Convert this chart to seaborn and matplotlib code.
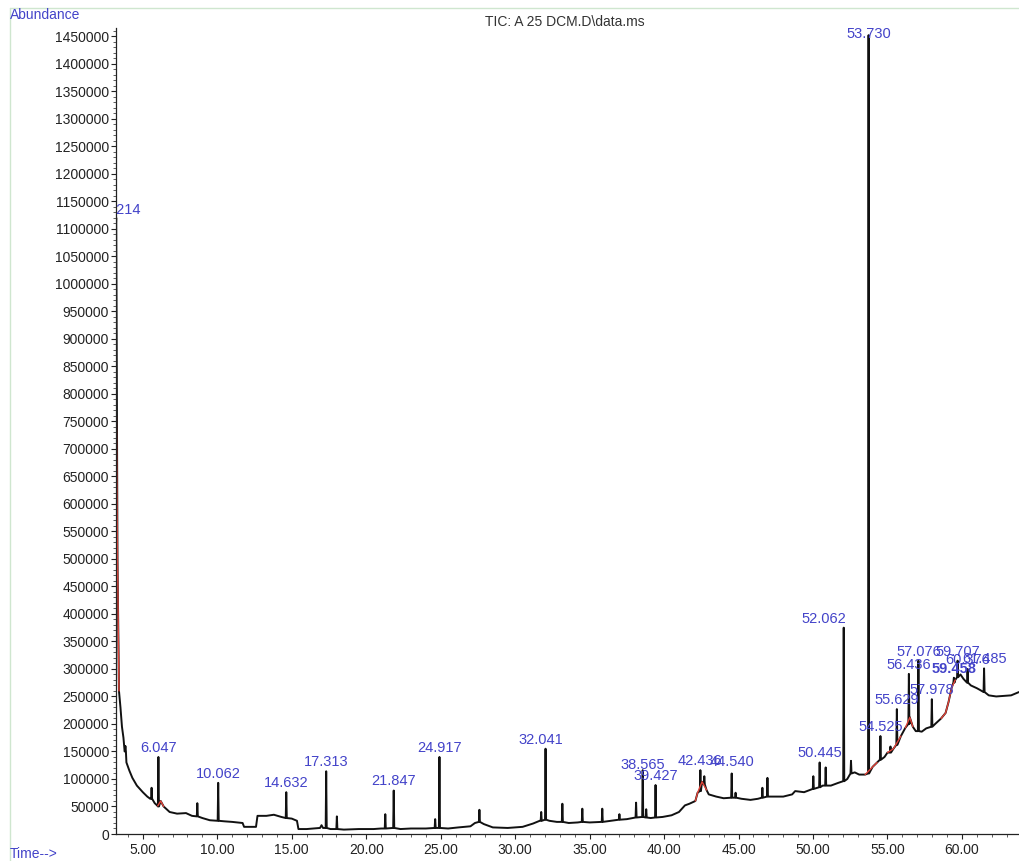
import numpy as np
import pandas as pd
import matplotlib
matplotlib.use("Agg")
import matplotlib.pyplot as plt
from matplotlib.lines import Line2D
from matplotlib.ticker import MultipleLocator, FormatStrFormatter, FuncFormatter
import seaborn as sns

# ---- chromatogram data (retention time in min, abundance in counts) ----
# baseline knots of the TIC trace
base_t = [3.30, 3.40, 3.50, 3.60, 3.70, 3.78, 3.90, 4.10, 4.30, 4.60, 5.00, 5.30, 5.50,
          5.80, 6.00, 6.20, 6.40, 6.80, 7.30, 7.90, 8.30, 9.00, 9.50, 10.50, 11.00,
          11.70, 11.80, 12.60, 12.70, 13.30, 13.80, 14.30, 15.00, 15.35, 15.45, 16.00,
          16.90, 17.00, 17.10, 17.60, 18.50, 19.50, 20.50, 21.00, 22.30, 23.00, 24.00,
          25.50, 26.20, 27.00, 27.30, 27.90, 28.50, 29.50, 30.50, 31.20, 31.65, 32.30,
          32.80, 33.60, 34.20, 35.00, 36.40, 37.50, 39.10, 39.90, 40.50, 41.00, 41.40,
          41.70, 42.10, 42.25, 42.55, 42.85, 43.00, 43.50, 44.00, 45.20, 45.80, 46.30,
          47.30, 48.00, 48.60, 48.80, 49.40, 49.80, 50.65, 51.20, 51.70, 52.30, 52.80,
          53.10, 53.50, 54.00, 54.30, 54.80, 55.00, 55.40, 55.90, 56.20, 56.50, 56.70,
          56.90, 57.30, 57.60, 58.20, 58.60, 58.90, 59.10, 59.30, 59.55, 59.90, 60.10,
          60.60, 61.00, 61.20, 61.80, 62.30, 62.80, 63.30, 63.83]
base_y = [500000, 260000, 230000, 195000, 175000, 150000, 130000, 115000, 102000, 88000,
          76000, 68000, 64000, 56000, 51000, 60000, 50000, 40000, 37000, 38000, 33000,
          29000, 25000, 23000, 22000, 20000, 13000, 13000, 33000, 33000, 35000, 31000,
          28000, 24000, 9000, 9000, 11000, 16000, 11000, 9000, 8000, 9000, 9000, 10000,
          9000, 10000, 10000, 10000, 12000, 14000, 20000, 18000, 12000, 11000, 13000,
          19000, 24000, 24000, 22000, 20000, 21000, 21000, 24000, 27000, 29000, 31000,
          34000, 40000, 52000, 55000, 60000, 75000, 95000, 80000, 72000, 68000, 65000,
          64000, 62000, 64000, 68000, 68000, 72000, 78000, 76000, 80000, 88000, 88000,
          93000, 100000, 112000, 108000, 108000, 122000, 130000, 140000, 148000, 155000,
          178000, 193000, 212000, 195000, 187000, 186000, 192000, 200000, 210000, 220000,
          240000, 265000, 280000, 290000, 282000, 270000, 265000, 262000, 252000, 250000,
          251000, 252000, 258000]

# labelled peaks: retention time, apex, foot level
peak_rt = [3.214, 6.047, 10.062, 14.632, 17.313, 21.847, 24.917, 32.041, 38.565, 39.427,
           42.436, 44.540, 50.445, 52.062, 53.730, 54.525, 55.629, 56.436, 57.076, 57.978,
           59.458, 59.707, 60.376, 61.485]
peak_apex = [1120000, 140000, 93000, 76000, 114000, 79000, 140000, 155000, 116000, 89000,
             116000, 110000, 130000, 375000, 1452000, 178000, 227000, 291000, 315000,
             245000, 284000, 315000, 300000, 301000]
peak_foot = [1120000, 50000, 24000, 29000, 11000, 11000, 11000, 26000, 31000, 30000,
             78000, 66000, 85000, 96000, 110000, 135000, 162000, 200000, 187000, 195000,
             275000, 285000, 275000, 258000]

# smaller unlabelled peaks
minor_rt = [3.83, 5.59, 8.66, 18.03, 21.28, 24.63, 27.60, 31.75, 33.17, 34.51, 35.85,
            37.00, 38.12, 38.80, 42.70, 44.80, 46.60, 46.94, 50.02, 50.85, 52.55, 55.20]
minor_apex = [160000, 84000, 56000, 32000, 36000, 27000, 44000, 40000, 55000, 46000,
              46000, 36000, 57000, 45000, 105000, 75000, 84000, 102000, 105000, 121000,
              133000, 159000]
minor_foot = [150000, 64000, 32000, 9000, 10000, 11000, 22000, 24000, 22000, 22000,
              22000, 26000, 30000, 30000, 90000, 66000, 66000, 68000, 82000, 88000,
              110000, 148000]

# time windows whose baseline is drawn in red (integration events)
red_windows = [(3.20, 3.45), (6.00, 6.40), (42.10, 42.90), (53.50, 54.30),
               (55.00, 55.90), (56.20, 56.70), (58.60, 59.55)]

# ---- build the trace ----
pts = list(zip(base_t, base_y))
for rt, ap, ft in zip(peak_rt, peak_apex, peak_foot):
    w = 0.035
    if rt == peak_rt[0]:
        pts += [(3.19, 1100000), (rt, ap)]
    else:
        pts += [(rt - w, ft), (rt, ap), (rt + w, ft)]
for rt, ap, ft in zip(minor_rt, minor_apex, minor_foot):
    w = 0.035
    pts += [(rt - w, ft), (rt, ap), (rt + w, ft)]
pts.sort(key=lambda p: p[0])
tic = pd.DataFrame(pts, columns=["time", "abundance"])
base = pd.DataFrame({"time": base_t, "abundance": base_y})

# ---- figure ----
sns.set_theme(style="ticks")
plt.rcParams["font.family"] = ["Liberation Sans", "DejaVu Sans"]

W, H = 1019, 861
fig = plt.figure(figsize=(W / 100, H / 100), dpi=100)
ax = fig.add_axes([116 / W, 1 - 834 / H, (W - 116) / W, (834 - 28) / H])

blue = "#4343c9"

sns.lineplot(data=tic, x="time", y="abundance", sort=False, estimator=None,
             color="#111111", linewidth=1.4, ax=ax)
for lo, hi in red_windows:
    seg = base[(base["time"] >= lo) & (base["time"] <= hi)]
    if lo < 3.25:
        seg = pd.concat([pd.DataFrame({"time": [3.225], "abundance": [760000]}), seg])
    sns.lineplot(data=seg, x="time", y="abundance", sort=False, estimator=None,
                 color="#e0443a", linewidth=1.0, ax=ax)

ax.set_xlim(3.2, 63.83)
ax.set_ylim(0, 1465000)
ax.set_xlabel("")
ax.set_ylabel("")

ax.xaxis.set_major_locator(MultipleLocator(5))
ax.xaxis.set_minor_locator(MultipleLocator(1))
ax.xaxis.set_major_formatter(FormatStrFormatter("%.2f"))
ax.yaxis.set_major_locator(MultipleLocator(50000))
ax.yaxis.set_minor_locator(MultipleLocator(10000))
ax.yaxis.set_major_formatter(FuncFormatter(lambda v, p: f"{int(round(v))}"))

ax.tick_params(axis="both", which="major", labelsize=10, colors="#222222",
               length=3.5, width=0.8, pad=1.5)
ax.tick_params(axis="both", which="minor", length=2, width=0.6, colors="#444444")
ax.tick_params(axis="x", which="major", pad=3)
sns.despine(ax=ax)
for s in ("left", "bottom"):
    ax.spines[s].set_linewidth(0.9)
    ax.spines[s].set_color("#222222")

# peak retention-time labels
offsets = {3.214: (4.5, 0.5), 32.041: (-3.6, 1.5), 52.062: (1.5, 1.5),
           53.730: (0, -4.0), 44.540: (0, 3.0), 38.565: (0, -1.0)}
for rt, ap in zip(peak_rt, peak_apex):
    dx, dy = offsets.get(rt, (0, 1.5))
    ha = "right" if rt == 52.062 else "center"
    weight = "bold" if rt == 59.458 else "normal"
    ax.annotate(f"{rt:.3f}", xy=(rt, ap), xytext=(dx, dy), textcoords="offset points",
                ha=ha, va="bottom", fontsize=10.5, color=blue, fontweight=weight,
                clip_on=True, annotation_clip=False, zorder=5)

# header texts and frame
fig.text(565 / W, 1 - 22 / H, "TIC: A 25 DCM.D\\data.ms", ha="center", va="center",
         fontsize=10, color="#333333")
fig.text(10 / W, 1 - 15 / H, "Abundance", ha="left", va="center", fontsize=10, color=blue)
fig.text(10 / W, 1 - 854 / H, "Time-->", ha="left", va="center", fontsize=10, color=blue)
fig.add_artist(Line2D([10 / W, 1], [1 - 8 / H, 1 - 8 / H], transform=fig.transFigure,
                      color="#cfe6cf", linewidth=1))
fig.add_artist(Line2D([10 / W, 10 / W], [1 - 8 / H, 0], transform=fig.transFigure,
                      color="#cfe6cf", linewidth=1))

fig.savefig("out.png", dpi=100)
